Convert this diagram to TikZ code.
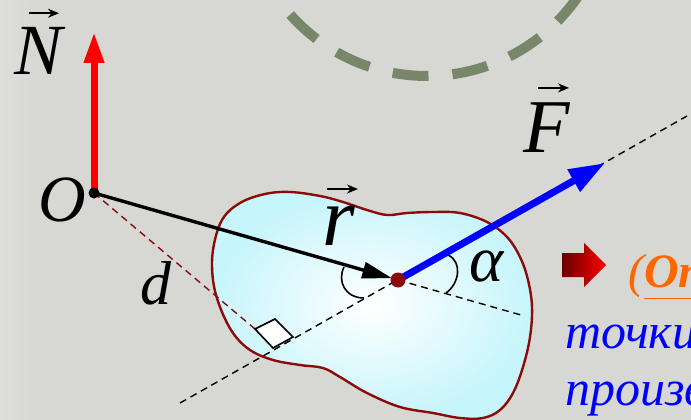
\documentclass[tikz,border=0pt]{standalone}
\usepackage{fontspec}
\setmainfont{Liberation Serif}
\usetikzlibrary{arrows.meta,calc}
\definecolor{bgc}{RGB}{215,216,211}
\definecolor{bgl}{RGB}{222,222,218}
\definecolor{circc}{RGB}{120,135,105}
\definecolor{blobc}{RGB}{198,245,251}
\definecolor{darkr}{RGB}{140,10,10}
\definecolor{orangec}{RGB}{255,102,0}
\tikzset{
  lbl/.style={inner sep=0pt, text=black},
  vecarr/.style={line width=2pt, -{Stealth[length=11pt,width=9pt]}},
  dashln/.style={line width=1.4pt, dash pattern=on 7pt off 5pt},
  anglearc/.style={line width=1.6pt, black},
}
\begin{document}
\begin{tikzpicture}[x=1pt,y=-1pt]
\useasboundingbox (0,0) rectangle (691,420);
\begin{scope}
\clip (0,0) rectangle (691,420);
% background
\fill[bgc] (0,0) rectangle (691,420);
\shade[left color=bgl, right color=bgc] (0,0) rectangle (35,420);
% dashed circle (top)
\coordinate (C) at (427,-107);
\draw[circc, line width=10pt, dash pattern=on 36pt off 24pt, dash phase=14pt] (C) circle (183);
% body
\shade[inner color=white, outer color=blobc, draw=darkr, line width=2.4pt]
  plot[smooth cycle, tension=0.6] coordinates {
  (213,250) (222,220) (240,203) (265,194) (290,192) (320,196) (343,202) (367,210)
  (387,215) (407,213) (433,212) (460,213) (487,222) (507,237) (520,257) (528,280)
  (532,307) (530,337) (523,367) (513,393) (500,410) (483,418) (460,418) (433,413)
  (400,407) (367,393) (340,377) (323,368) (300,365) (273,360) (250,350) (233,333)
  (220,307) (213,280)};
% key points
\coordinate (O) at (94,193);
\coordinate (A) at (398,280);
\coordinate (Ntip) at (94,32);
\coordinate (Ftip) at (605,163);
\coordinate (Fstart) at (180,403);
\coordinate (Fend) at (687,116);
\coordinate (Rext) at (521,315);
\coordinate (P1) at (255,329);
\coordinate (P2) at (275,319);
\coordinate (P3) at (293,337);
\coordinate (P4) at (273,348);
% dashed lines
\draw[dashln] (Fstart) -- (Fend);
\draw[dashln] (A) -- (Rext);
\draw[dashln, darkr] (O) -- (P1);
% right angle
\draw[fill=white, line width=1.6pt] (P1) -- (P2) -- (P3) -- (P4) -- cycle;
% angle arcs
\draw[anglearc] (344,267) .. controls (337,281) and (345,298) .. (364,298);
\draw[anglearc] (448,255) .. controls (463,262) and (459,284) .. (446,293);
% vectors
\draw[red, line width=7pt, -{Triangle[length=31pt,width=19pt]}] (O) -- (Ntip);
\draw[black, line width=3.4pt, shorten >=6pt, -{Triangle[length=30pt,width=16pt]}] (O) -- (A);
\draw[blue, line width=7pt, -{Triangle[length=36pt,width=24pt]}] (A) -- (Ftip);
% points
\fill[black] (O) circle (5.5);
\fill[darkr] (A) circle (7.5);
% labels
\node[lbl, font=\fontsize{72}{72}\selectfont\itshape] (Nl) at (39,51) {N};
\draw[vecarr] ([shift={(-10,-14)}]Nl.north) -- ([shift={(20,-14)}]Nl.north);
\node[lbl, font=\fontsize{66}{66}\selectfont\itshape] (Ol) at (62,200) {O};
\node[lbl, font=\fontsize{84}{84}\selectfont\itshape] (rl) at (339,226) {r};
\draw[vecarr] ([shift={(-12,-17)}]rl.north) -- ([shift={(19,-17)}]rl.north);
\node[lbl, font=\fontsize{76}{76}\selectfont\itshape] (Fl) at (547,128) {F};
\draw[vecarr] ([shift={(-9,-15)}]Fl.north) -- ([shift={(22,-15)}]Fl.north);
\node[lbl, font=\fontsize{65}{65}\selectfont\itshape] (al) at (487,267) {α};
\node[lbl, font=\fontsize{62}{62}\selectfont\itshape] (dl) at (156,283) {d};
% marker icon
\shade[left color=red!40!black, right color=red]
  (562,253) -- (584,253) -- (584,243) -- (606,265) -- (584,287) -- (584,277) -- (562,277) -- cycle;
% right text
\node[lbl, anchor=base west, text=orangec, font=\fontsize{48}{48}\selectfont\itshape] (t1) at (628,287)
  {(\underline{\bfseries Определение})};
\node[lbl, anchor=base west, text=blue, font=\fontsize{50}{50}\selectfont\itshape] (t2) at (565,348)
  {точки называется};
\node[lbl, anchor=base west, text=blue, font=\fontsize{50}{50}\selectfont\itshape] (t3) at (565,405)
  {произведение};
\end{scope}
\end{tikzpicture}
\end{document}
